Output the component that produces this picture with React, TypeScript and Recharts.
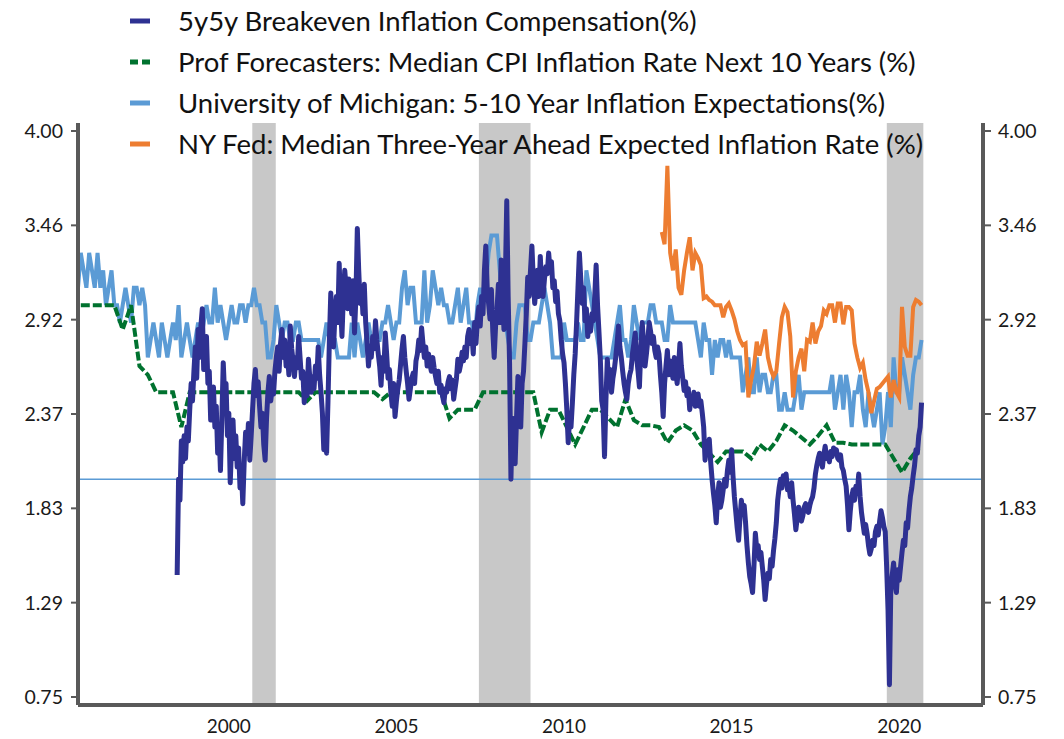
import React from 'react';
import { LineChart, Line, XAxis, YAxis, ReferenceArea, ReferenceLine, Legend } from 'recharts';

// 5y5y breakeven, semi-monthly readings starting mid-Dec 1998
const breakevenStart = 1998 + 23 / 24;
const breakeven = [
  1.45,
  // 1999
  2.0, 1.88, 2.22, 2.1, 2.25, 2.12, 2.3, 2.22, 2.4, 2.55, 2.45, 2.62, 2.76, 2.58, 2.86, 2.7, 2.88, 2.98, 2.63, 2.75, 2.82, 2.55, 2.62, 2.34,
  // 2000
  2.45, 2.53, 2.3, 2.42, 2.15, 2.28, 2.05, 2.35, 2.67, 2.48, 2.55, 2.25, 2.38, 1.98, 2.2, 2.34, 2.12, 2.25, 2.07, 2.18, 1.95, 2.05, 1.86, 2.1,
  // 2001
  2.27, 2.15, 2.32, 2.11, 2.25, 2.4, 2.55, 2.63, 2.48, 2.56, 2.42, 2.3, 2.38, 2.2, 2.11, 2.35, 2.5, 2.59, 2.45, 2.52, 2.49, 2.62, 2.7, 2.76,
  // 2002
  2.62, 2.78, 2.86, 2.7, 2.8, 2.65, 2.72, 2.6, 2.88, 2.75, 2.68, 2.59, 2.7, 2.64, 2.82, 2.7, 2.58, 2.62, 2.44, 2.55, 2.48, 2.69, 2.58, 2.5,
  // 2003
  2.59, 2.52, 2.65, 2.58, 2.76, 2.6, 2.5, 2.38, 2.17, 2.3, 2.15, 2.45, 2.8, 3.07, 2.88, 2.76, 2.95, 3.05, 2.9, 3.24, 3.0, 2.82, 3.05, 3.2,
  // 2004
  3.1, 2.98, 3.15, 3.05, 2.95, 3.14, 2.84, 3.05, 3.44, 3.2, 3.01, 3.11, 2.95, 3.12, 2.9, 2.78, 2.65, 2.75, 2.7, 2.82, 2.75, 2.91, 2.8, 2.72,
  // 2005
  2.65, 2.54, 2.7, 2.62, 2.84, 2.72, 2.58, 2.63, 2.5, 2.42, 2.55, 2.36, 2.45, 2.52, 2.57, 2.66, 2.75, 2.82, 2.7, 2.62, 2.55, 2.46, 2.52, 2.58,
  // 2006
  2.61, 2.55, 2.68, 2.72, 2.8, 2.74, 2.87, 2.78, 2.7, 2.76, 2.65, 2.72, 2.66, 2.62, 2.7, 2.64, 2.59, 2.55, 2.62, 2.5, 2.54, 2.48, 2.44, 2.52,
  // 2007
  2.5, 2.56, 2.59, 2.52, 2.57, 2.46, 2.52, 2.58, 2.69, 2.62, 2.66, 2.73, 2.68, 2.76, 2.7, 2.82, 2.86, 2.78, 2.84, 2.72, 2.9, 2.78, 2.92, 2.99,
  // 2008
  2.88, 3.05, 2.95, 3.2, 3.34, 3.1, 3.01, 2.92, 3.09, 2.85, 2.7, 2.88, 2.97, 3.12, 2.9, 3.26, 3.05, 2.86, 3.15, 3.6, 3.05, 2.67, 2.0, 2.35,
  // 2009
  2.25, 2.09, 2.35, 2.59, 2.45, 2.3, 2.55, 2.62, 2.78, 2.95, 3.16, 3.05, 3.2, 3.34, 3.15, 3.01, 3.1, 3.2, 3.05, 3.28, 3.12, 3.05, 3.15, 3.22,
  // 2010
  3.18, 3.3, 3.2, 3.25, 3.1, 3.14, 3.02, 3.08, 2.95, 2.91, 2.8, 2.72, 2.67, 2.55, 2.4, 2.21, 2.35, 2.3, 2.44, 2.6, 2.72, 2.9, 3.1, 3.3,
  // 2011
  3.15, 3.01, 3.1, 2.91, 2.98, 2.82, 2.9, 2.85, 2.95, 2.91, 3.05, 3.23, 3.0, 2.85, 2.69, 2.45, 2.4, 2.13, 2.45, 2.69, 2.55, 2.63, 2.5, 2.58,
  // 2012
  2.63, 2.7, 2.78, 2.88, 2.76, 2.7, 2.62, 2.55, 2.5, 2.46, 2.55, 2.6, 2.63, 2.72, 2.78, 2.84, 2.7, 2.62, 2.53, 2.75, 2.9, 2.78, 2.65, 2.72,
  // 2013
  2.8, 2.9, 2.85, 2.78, 2.82, 2.74, 2.7, 2.76, 2.72, 2.6, 2.5, 2.36, 2.55, 2.65, 2.74, 2.6, 2.68, 2.63, 2.58, 2.7, 2.62, 2.55, 2.65, 2.78,
  // 2014
  2.65, 2.58, 2.51, 2.56, 2.48, 2.52, 2.4, 2.47, 2.44, 2.5, 2.42, 2.46, 2.49, 2.42, 2.45, 2.38, 2.3, 2.11, 2.2, 2.17, 2.23, 2.1, 2.0, 1.92,
  // 2015
  1.85, 1.75, 1.9, 1.98, 1.84, 1.88, 1.94, 2.0, 1.96, 2.05, 2.11, 2.04, 2.17, 2.02, 1.9, 1.81, 1.72, 1.65, 1.78, 1.88, 1.8, 1.85, 1.75, 1.62,
  // 2016
  1.52, 1.44, 1.4, 1.35, 1.5, 1.69, 1.6, 1.62, 1.54, 1.58, 1.5, 1.42, 1.31, 1.4, 1.46, 1.43, 1.54, 1.5, 1.59, 1.66, 1.75, 1.88, 1.95, 2.0,
  // 2017
  1.95, 2.02, 1.98, 2.03, 1.94, 1.96, 1.9, 1.98, 1.88, 1.8, 1.71, 1.78, 1.84, 1.8, 1.76, 1.79, 1.84, 1.86, 1.82, 1.81, 1.85, 1.88, 1.9, 1.95,
  // 2018
  2.03, 2.08, 2.12, 2.15, 2.1, 2.07, 2.14, 2.19, 2.12, 2.15, 2.1, 2.16, 2.13, 2.18, 2.15, 2.17, 2.12, 2.11, 2.14, 2.07, 2.05, 2.0, 1.96, 1.85,
  // 2019
  1.71, 1.82, 1.9, 1.94, 1.88, 1.96, 1.92, 2.03, 1.9, 1.81, 1.75, 1.69, 1.74, 1.69, 1.62, 1.57, 1.6, 1.65, 1.62, 1.7, 1.73, 1.68, 1.76, 1.82,
  // 2020
  1.78, 1.73, 1.7, 1.5, 1.25, 0.82, 1.38, 1.45, 1.52, 1.4, 1.35, 1.48, 1.42, 1.5, 1.58, 1.65, 1.62, 1.75, 1.72, 1.82, 1.9, 1.95, 2.02, 2.08,
  // 2021
  2.17, 2.15, 2.25, 2.3, 2.44,
];

// SPF 10-year CPI, quarterly (mid-quarter) from early 1996
const spfStart = 1996 + 1 / 12;
const spf = [
  3.0, 3.0, 3.0, 3.0,
  3.0, 2.86, 3.0, 2.65,
  2.6, 2.5, 2.5, 2.5,
  2.3, 2.5, 2.5, 2.5,
  2.5, 2.5, 2.5, 2.5,
  2.5, 2.5, 2.5, 2.5,
  2.5, 2.5, 2.5, 2.45,
  2.5, 2.5, 2.5, 2.5,
  2.5, 2.5, 2.5, 2.5,
  2.46, 2.5, 2.5, 2.5,
  2.5, 2.5, 2.5, 2.5,
  2.35, 2.4, 2.4, 2.4,
  2.5, 2.5, 2.5, 2.5,
  2.5, 2.5, 2.5, 2.27,
  2.4, 2.4, 2.3, 2.2,
  2.3, 2.4, 2.4, 2.35,
  2.3, 2.46, 2.34, 2.31,
  2.31, 2.3, 2.21, 2.28,
  2.31, 2.28, 2.2, 2.15,
  2.1, 2.16, 2.16, 2.16,
  2.12, 2.2, 2.16, 2.22,
  2.31, 2.28, 2.24, 2.2,
  2.25, 2.31, 2.21, 2.21,
  2.2, 2.2, 2.2, 2.2,
  2.2, 2.12, 2.04, 2.12,
  2.18,
];

// University of Michigan 5-10 year expectations, monthly from Jan 1996
const umichStart = 1996;
const umich = [
  3.1, 3.3, 3.2, 3.1, 3.3, 3.2, 3.1, 3.3, 3.1, 3.2, 3.0, 3.1,
  3.2, 3.0, 3.0, 2.9, 3.0, 3.1, 3.0, 2.9, 3.1, 3.1, 3.0, 3.1,
  3.0, 2.7, 2.8, 2.9, 2.8, 2.7, 2.9, 2.8, 2.7, 2.8, 2.9, 2.8,
  3.0, 2.7, 2.8, 2.9, 2.8, 2.7, 2.8, 2.9, 2.8, 2.9, 3.0, 2.9,
  2.9, 3.1, 2.9, 3.0, 2.9, 2.8, 2.9, 3.0, 2.9, 2.9, 3.0, 3.0,
  2.9, 3.0, 3.0, 3.1, 3.0, 3.0, 2.9, 2.9, 2.7, 2.7, 2.8, 3.0,
  2.9, 2.8, 2.9, 2.9, 2.8, 2.8, 2.9, 2.9, 2.8, 2.8, 2.8, 2.8,
  2.8, 2.8, 2.8, 2.7, 2.8, 2.9, 2.8, 2.8, 2.8, 2.7, 2.7, 2.7,
  2.7, 2.7, 2.9, 2.7, 2.9, 2.8, 2.7, 2.8, 2.9, 2.8, 2.8, 2.8,
  2.8, 2.9, 2.9, 3.0, 2.9, 2.8, 2.9, 2.9, 3.1, 3.2, 3.0, 3.1,
  3.1, 2.9, 2.9, 2.9, 3.2, 2.9, 3.0, 3.2, 3.1, 3.0, 3.1, 3.0,
  3.0, 2.9, 2.9, 3.0, 3.1, 2.9, 3.0, 3.1, 2.9, 2.9, 2.8, 3.0,
  3.1, 3.0, 3.1, 3.3, 3.4, 3.4, 3.4, 3.2, 3.0, 2.9, 2.8, 2.7,
  2.7, 2.9, 3.0, 3.0, 3.0, 2.8, 2.8, 2.9, 2.9, 2.9, 3.0, 3.1,
  3.0, 2.9, 2.7, 2.7, 2.7, 2.7, 2.9, 2.8, 2.8, 2.8, 2.8, 2.9,
  2.8, 2.8, 3.2, 3.1, 3.0, 2.9, 2.8, 2.7, 2.7, 2.7, 2.7, 2.7,
  2.8, 2.9, 3.0, 2.8, 2.8, 2.7, 2.8, 3.0, 2.9, 2.8, 2.9, 2.9,
  2.9, 3.0, 3.0, 2.9, 2.9, 2.9, 2.8, 2.8, 3.0, 2.9, 2.9, 2.9,
  2.9, 2.9, 2.9, 2.9, 2.9, 2.9, 2.8, 2.7, 2.9, 2.8, 2.8, 2.6,
  2.8, 2.7, 2.8, 2.8, 2.7, 2.8, 2.7, 2.7, 2.7, 2.7, 2.5, 2.6,
  2.7, 2.5, 2.5, 2.7, 2.5, 2.6, 2.6, 2.5, 2.5, 2.6, 2.6, 2.4,
  2.4, 2.5, 2.4, 2.4, 2.4, 2.5, 2.6, 2.4, 2.5, 2.5, 2.5, 2.5,
  2.5, 2.5, 2.5, 2.5, 2.5, 2.5, 2.6, 2.4, 2.5, 2.6, 2.4, 2.6,
  2.5, 2.3, 2.5, 2.5, 2.6, 2.4, 2.3, 2.5, 2.4, 2.3, 2.4, 2.5,
  2.2, 2.3, 2.5, 2.3, 2.7, 2.5, 2.5, 2.7, 2.6, 2.5, 2.4, 2.6,
  2.7, 2.7, 2.8,
];

// NY Fed three-year ahead median, monthly from Jun 2013
const nyFedStart = 2013 + 5 / 12;
const nyFed = [
  3.42, 3.35, 3.8, 3.3, 3.2, 3.32, 3.1,
  3.06, 3.2, 3.3, 3.39, 3.2, 3.3, 3.27, 3.23, 3.04, 3.05, 3.03, 3.02,
  3.0, 3.0, 3.0, 2.93, 2.99, 3.01, 2.97, 2.92, 2.85, 2.8, 2.77, 2.78,
  2.47, 2.57, 2.65, 2.79, 2.71, 2.78, 2.86, 2.7, 2.63, 2.59, 2.62, 2.78,
  2.93, 2.99, 2.96, 2.82, 2.47, 2.62, 2.7, 2.75, 2.62, 2.8, 2.79, 2.9,
  2.78, 2.85, 2.88, 2.97, 2.95, 3.0, 3.0, 2.9, 3.01, 3.01, 2.89, 2.99,
  2.99, 2.97, 2.78, 2.7, 2.64, 2.67, 2.57, 2.5, 2.38, 2.45, 2.52, 2.53,
  2.55, 2.57, 2.59, 2.47, 2.57, 2.5, 2.47, 2.99, 2.76, 2.71, 2.71, 2.99,
  3.03, 3.02, 3.0,
];

const recessions = [
  [2001.2, 2001.9],
  [2007.96, 2009.5],
  [2020.13, 2021.22],
];

const yTickValues = [0.75, 1.2917, 1.8333, 2.375, 2.9167, 3.4583, 4.0];
const yTickLabels = ['0.75', '1.29', '1.83', '2.37', '2.92', '3.46', '4.00'];
const yearLabels = [2000, 2005, 2010, 2015, 2020];
const yearTicks = Array.from({ length: 28 }, (_, i) => 1996 + i);

const seriesNames = [
  '5y5y Breakeven Inflation Compensation(%)',
  'Prof Forecasters: Median CPI Inflation Rate Next 10 Years (%)',
  'University of Michigan: 5-10 Year Inflation Expectations(%)',
  'NY Fed: Median Three-Year Ahead Expected Inflation Rate (%)',
];
const seriesColors = ['#2E3192', '#00722F', '#5B9BD5', '#ED7D31'];

const toPoints = (start: number, step: number, values: number[]) =>
  values.map((v, i) => ({ x: start + i * step, y: v }));

const breakevenData = toPoints(breakevenStart, 1 / 24, breakeven);
const spfData = toPoints(spfStart, 1 / 4, spf);
const umichData = toPoints(umichStart, 1 / 12, umich);
const nyFedData = toPoints(nyFedStart, 1 / 12, nyFed);

const Y_DOMAIN: [number, number] = [0.704, 4.046];
const X_DOMAIN: [number, number] = [1996, 2023];
const AXIS = '#595959';

const yLabel = (v: number) => {
  let best = 0;
  yTickValues.forEach((t, i) => {
    if (Math.abs(t - v) < Math.abs(yTickValues[best] - v)) best = i;
  });
  return yTickLabels[best];
};

const LegendBox = () => (
  <div style={{ fontSize: 27.5, color: '#111' }}>
    {seriesNames.map((name, i) => (
      <div key={name} style={{ display: 'flex', alignItems: 'center', height: 41 }}>
        <svg width={50} height={10} style={{ flex: 'none' }}>
          <line
            x1={2}
            x2={22}
            y1={5}
            y2={5}
            stroke={seriesColors[i]}
            strokeWidth={5}
            strokeDasharray={i === 1 ? '8 4' : undefined}
          />
        </svg>
        <span style={{ whiteSpace: 'nowrap' }}>{name}</span>
      </div>
    ))}
  </div>
);

export default function App() {
  return (
    <div style={{ position: 'absolute', left: 0, top: 0, fontFamily: 'Lato, sans-serif', background: '#fff' }}>
      <LineChart width={1064} height={739} margin={{ top: 123, right: 0, bottom: 0, left: 0 }}>
        <XAxis
          type="number"
          dataKey="x"
          domain={X_DOMAIN}
          allowDataOverflow
          ticks={yearTicks}
          interval={0}
          tick={false}
          tickSize={12}
          height={12}
          axisLine={{ stroke: AXIS, strokeWidth: 4 }}
          tickLine={{ stroke: AXIS, strokeWidth: 2 }}
        />
        <XAxis
          xAxisId="lbl"
          type="number"
          dataKey="x"
          domain={X_DOMAIN}
          allowDataOverflow
          ticks={yearLabels.map((y) => y + 0.5)}
          interval={0}
          tickFormatter={(v: number) => String(Math.floor(v))}
          axisLine={false}
          tickLine={false}
          tickSize={0}
          tickMargin={3}
          height={22}
          tick={{ fill: '#1a1a1a', fontSize: 19 }}
        />
        <YAxis
          yAxisId="left"
          type="number"
          domain={Y_DOMAIN}
          allowDataOverflow
          ticks={yTickValues}
          interval={0}
          tickFormatter={yLabel}
          width={78}
          tickSize={7}
          tickMargin={8}
          axisLine={{ stroke: AXIS, strokeWidth: 4 }}
          tickLine={{ stroke: AXIS, strokeWidth: 2 }}
          tick={{ fill: '#1a1a1a', fontSize: 19.5 }}
        />
        <YAxis
          yAxisId="right"
          orientation="right"
          type="number"
          domain={Y_DOMAIN}
          allowDataOverflow
          ticks={yTickValues}
          interval={0}
          tickFormatter={yLabel}
          width={81}
          tickSize={8}
          tickMargin={7}
          axisLine={{ stroke: AXIS, strokeWidth: 4 }}
          tickLine={{ stroke: AXIS, strokeWidth: 2 }}
          tick={{ fill: '#1a1a1a', fontSize: 19.5 }}
        />
        {recessions.map(([a, b]) => (
          <ReferenceArea key={a} yAxisId="left" x1={a} x2={b} fill="#C8C8C8" fillOpacity={1} stroke="none" />
        ))}
        <ReferenceLine yAxisId="left" y={2.0} stroke="#5B9BD5" strokeWidth={1.5} />
        <Line
          yAxisId="left"
          data={umichData}
          dataKey="y"
          type="linear"
          stroke={seriesColors[2]}
          strokeWidth={4}
          dot={false}
          isAnimationActive={false}
          name={seriesNames[2]}
        />
        <Line
          yAxisId="left"
          data={spfData}
          dataKey="y"
          type="linear"
          stroke={seriesColors[1]}
          strokeWidth={4}
          strokeDasharray="9 3"
          dot={false}
          isAnimationActive={false}
          name={seriesNames[1]}
        />
        <Line
          yAxisId="left"
          data={nyFedData}
          dataKey="y"
          type="linear"
          stroke={seriesColors[3]}
          strokeWidth={4}
          dot={false}
          isAnimationActive={false}
          name={seriesNames[3]}
        />
        <Line
          yAxisId="left"
          data={breakevenData}
          dataKey="y"
          type="linear"
          stroke={seriesColors[0]}
          strokeWidth={5}
          strokeLinejoin="round"
          dot={false}
          isAnimationActive={false}
          name={seriesNames[0]}
        />
        <Legend
          layout="vertical"
          align="center"
          verticalAlign="middle"
          content={LegendBox}
          wrapperStyle={{ left: 128, top: 0, width: 880 }}
        />
      </LineChart>
    </div>
  );
}
